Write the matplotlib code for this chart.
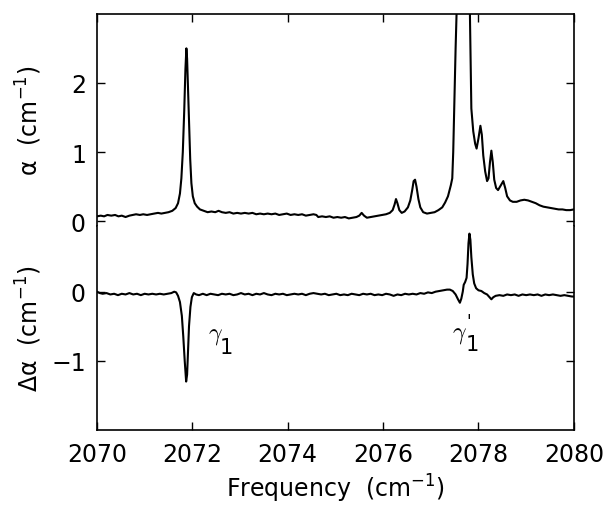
import matplotlib
matplotlib.use("Agg")
import matplotlib.pyplot as plt

# absorption spectrum (top panel)
freq_top = [2070.00, 2070.08, 2070.15, 2070.22, 2070.30, 2070.38, 2070.45, 2070.52, 2070.60, 2070.68,
            2070.75, 2070.82, 2070.90, 2070.97, 2071.05, 2071.12, 2071.20, 2071.28, 2071.35, 2071.42,
            2071.50, 2071.58, 2071.65, 2071.70, 2071.74, 2071.77, 2071.80, 2071.83, 2071.855, 2071.875,
            2071.89, 2071.91, 2071.93, 2071.955, 2071.98, 2072.01, 2072.05, 2072.10, 2072.16, 2072.24,
            2072.32, 2072.40, 2072.48, 2072.55, 2072.62, 2072.70, 2072.78, 2072.86, 2072.94, 2073.02,
            2073.10, 2073.18, 2073.26, 2073.34, 2073.42, 2073.50, 2073.58, 2073.66, 2073.74, 2073.82,
            2073.90, 2073.98, 2074.06, 2074.14, 2074.22, 2074.30, 2074.38, 2074.46, 2074.54, 2074.60,
            2074.64, 2074.72, 2074.80, 2074.88, 2074.96, 2075.04, 2075.12, 2075.20, 2075.28, 2075.36,
            2075.44, 2075.50, 2075.55, 2075.60, 2075.66, 2075.74, 2075.82, 2075.90, 2075.98, 2076.06,
            2076.14, 2076.20, 2076.24, 2076.27, 2076.30, 2076.34, 2076.39, 2076.45, 2076.52, 2076.57,
            2076.61, 2076.64, 2076.67, 2076.70, 2076.74, 2076.78, 2076.84, 2076.92, 2077.00, 2077.08,
            2077.16, 2077.24, 2077.30, 2077.36, 2077.42, 2077.45, 2077.47, 2077.49, 2077.52, 2077.54,
            2077.58, 2077.68, 2077.78, 2077.82, 2077.85, 2077.89, 2077.93, 2077.96, 2078.00, 2078.04,
            2078.07, 2078.10, 2078.14, 2078.18, 2078.21, 2078.24, 2078.27, 2078.30, 2078.33, 2078.37,
            2078.41, 2078.47, 2078.52, 2078.56, 2078.60, 2078.66, 2078.72, 2078.80, 2078.88, 2078.96,
            2079.04, 2079.12, 2079.20, 2079.28, 2079.36, 2079.44, 2079.52, 2079.60, 2079.68, 2079.76,
            2079.84, 2079.92, 2080.00]
alpha = [0.07, 0.08, 0.07, 0.09, 0.08, 0.09, 0.07, 0.08, 0.06, 0.08,
         0.09, 0.10, 0.09, 0.10, 0.09, 0.10, 0.11, 0.12, 0.11, 0.12,
         0.13, 0.15, 0.19, 0.26, 0.40, 0.62, 1.00, 1.60, 2.20, 2.50,
         2.35, 1.90, 1.40, 0.90, 0.55, 0.36, 0.26, 0.21, 0.17, 0.15,
         0.13, 0.14, 0.13, 0.15, 0.13, 0.12, 0.13, 0.11, 0.12, 0.11,
         0.12, 0.11, 0.12, 0.10, 0.11, 0.10, 0.11, 0.10, 0.11, 0.09,
         0.10, 0.11, 0.09, 0.10, 0.09, 0.10, 0.08, 0.09, 0.10, 0.09,
         0.06, 0.07, 0.06, 0.07, 0.05, 0.06, 0.05, 0.06, 0.04, 0.05,
         0.06, 0.08, 0.12, 0.08, 0.05, 0.06, 0.07, 0.08, 0.09, 0.10,
         0.12, 0.16, 0.24, 0.32, 0.26, 0.16, 0.12, 0.14, 0.20, 0.30,
         0.45, 0.58, 0.60, 0.50, 0.32, 0.20, 0.13, 0.11, 0.12, 0.13,
         0.16, 0.20, 0.27, 0.36, 0.52, 0.62, 1.00, 1.60, 2.50, 3.00,
         3.60, 3.80, 3.60, 3.00, 1.63, 1.30, 1.12, 1.05, 1.20, 1.38,
         1.25, 0.95, 0.72, 0.58, 0.62, 0.85, 1.02, 0.85, 0.60, 0.48,
         0.45, 0.52, 0.58, 0.48, 0.36, 0.30, 0.28, 0.28, 0.30, 0.31,
         0.30, 0.28, 0.26, 0.23, 0.21, 0.20, 0.19, 0.18, 0.17, 0.17,
         0.16, 0.16, 0.17]

# difference spectrum (bottom panel)
freq_bot = [2070.00, 2070.06, 2070.12, 2070.20, 2070.28, 2070.36, 2070.44, 2070.52, 2070.60, 2070.68,
            2070.76, 2070.84, 2070.92, 2071.00, 2071.08, 2071.16, 2071.24, 2071.32, 2071.40, 2071.48,
            2071.56, 2071.62, 2071.66, 2071.70, 2071.74, 2071.78, 2071.81, 2071.84, 2071.87, 2071.89,
            2071.91, 2071.93, 2071.96, 2071.99, 2072.03, 2072.08, 2072.14, 2072.22, 2072.30, 2072.38,
            2072.46, 2072.54, 2072.62, 2072.70, 2072.78, 2072.86, 2072.94, 2073.02, 2073.10, 2073.18,
            2073.26, 2073.34, 2073.42, 2073.50, 2073.58, 2073.66, 2073.74, 2073.82, 2073.90, 2073.98,
            2074.06, 2074.14, 2074.22, 2074.30, 2074.38, 2074.46, 2074.54, 2074.62, 2074.70, 2074.78,
            2074.86, 2074.94, 2075.02, 2075.10, 2075.18, 2075.26, 2075.34, 2075.42, 2075.50, 2075.58,
            2075.66, 2075.74, 2075.82, 2075.90, 2075.98, 2076.06, 2076.14, 2076.22, 2076.30, 2076.38,
            2076.46, 2076.54, 2076.62, 2076.70, 2076.78, 2076.86, 2076.94, 2077.02, 2077.10, 2077.18,
            2077.26, 2077.34, 2077.40, 2077.46, 2077.52, 2077.57, 2077.61, 2077.64, 2077.67, 2077.69,
            2077.72, 2077.75, 2077.77, 2077.79, 2077.81, 2077.83, 2077.85, 2077.88, 2077.91, 2077.95,
            2078.00, 2078.06, 2078.12, 2078.18, 2078.23, 2078.27, 2078.31, 2078.36, 2078.44, 2078.52,
            2078.60, 2078.68, 2078.76, 2078.84, 2078.92, 2079.00, 2079.08, 2079.16, 2079.24, 2079.32,
            2079.40, 2079.48, 2079.56, 2079.64, 2079.72, 2079.80, 2079.88, 2079.96, 2080.00]
dalpha = [0.00, -0.02, -0.03, -0.02, -0.04, -0.03, -0.05, -0.03, -0.04, -0.02,
          -0.04, -0.03, -0.05, -0.03, -0.04, -0.03, -0.04, -0.03, -0.04, -0.03,
          -0.02, 0.00, -0.01, -0.06, -0.15, -0.35, -0.65, -1.00, -1.30, -1.20,
          -0.85, -0.50, -0.22, -0.08, -0.02, -0.04, -0.05, -0.03, -0.05, -0.03,
          -0.04, -0.05, -0.03, -0.04, -0.03, -0.05, -0.04, -0.02, -0.04, -0.03,
          -0.05, -0.03, -0.04, -0.02, -0.04, -0.05, -0.03, -0.04, -0.03, -0.05,
          -0.04, -0.03, -0.04, -0.03, -0.05, -0.03, -0.02, -0.03, -0.04, -0.03,
          -0.05, -0.04, -0.03, -0.05, -0.04, -0.05, -0.03, -0.04, -0.05, -0.03,
          -0.04, -0.03, -0.05, -0.04, -0.05, -0.03, -0.04, -0.06, -0.04, -0.05,
          -0.03, -0.04, -0.03, -0.04, -0.02, -0.03, -0.01, -0.02, 0.00, 0.01,
          0.02, 0.03, 0.03, 0.01, -0.04, -0.11, -0.16, -0.10, 0.00, 0.10,
          0.14, 0.20, 0.40, 0.70, 0.84, 0.75, 0.50, 0.25, 0.12, 0.05,
          0.02, 0.01, -0.02, -0.04, -0.08, -0.11, -0.08, -0.06, -0.05, -0.06,
          -0.04, -0.05, -0.04, -0.06, -0.04, -0.05, -0.04, -0.05, -0.04, -0.06,
          -0.04, -0.05, -0.04, -0.05, -0.06, -0.05, -0.06, -0.07, -0.07]

xticks = [2070, 2072, 2074, 2076, 2078, 2080]
fs = 17

fig = plt.figure(figsize=(6.06, 5.10), dpi=100)
gs = fig.add_gridspec(2, 1, height_ratios=[3.07, 2.95], hspace=0,
                      left=0.16, right=0.947, top=0.971, bottom=0.155)
ax1 = fig.add_subplot(gs[0])
ax2 = fig.add_subplot(gs[1], sharex=ax1)

ax1.plot(freq_top, alpha, color='black', lw=1.5)
ax2.plot(freq_bot, dalpha, color='black', lw=1.5)

ax1.set_xlim(2070, 2080)
ax1.set_ylim(-0.07, 3.0)
ax2.set_ylim(-2.0, 0.95)
ax1.set_yticks([0, 1, 2])
ax2.set_yticks([-1, 0])
ax2.set_yticklabels(['\u22121', '0'])
ax2.set_xticks(xticks)

# one frame, no line between the panels
ax1.spines['bottom'].set_visible(False)
ax2.spines['top'].set_visible(False)
for ax in (ax1, ax2):
    for s in ax.spines.values():
        s.set_linewidth(1.2)
ax1.tick_params(axis='x', which='both', bottom=False, top=True, labelbottom=False,
                direction='in', length=6, width=1)
ax2.tick_params(axis='x', which='both', bottom=True, top=False, direction='in',
                length=6, width=1, labelsize=fs, pad=9)
for ax in (ax1, ax2):
    ax.tick_params(axis='y', left=True, right=True, direction='in', length=6, width=1,
                   labelsize=fs, pad=8)

ax1.set_ylabel('\u03b1  (cm$^{-1}$)', fontsize=fs)
ax2.set_ylabel('\u0394\u03b1  (cm$^{-1}$)', fontsize=fs)
ax1.yaxis.set_label_coords(-0.11, 0.5)
ax2.yaxis.set_label_coords(-0.11, 0.5)
ax2.set_xlabel(r'Frequency  (cm$^{-1}$)', fontsize=fs, labelpad=4)

# peak labels
ax2.text(2072.48, -0.61, r'$\gamma$', fontsize=fs, math_fontfamily='cm', ha='center', va='center')
ax2.text(2072.72, -0.80, '1', fontsize=15, ha='center', va='center')
ax2.text(2077.60, -0.60, r'$\gamma$', fontsize=fs, math_fontfamily='cm', ha='center', va='center')
ax2.text(2077.79, -0.42, "'", fontsize=12, ha='center', va='center')
ax2.text(2077.88, -0.76, '1', fontsize=15, ha='center', va='center')

fig.savefig('out.png', dpi=100)
